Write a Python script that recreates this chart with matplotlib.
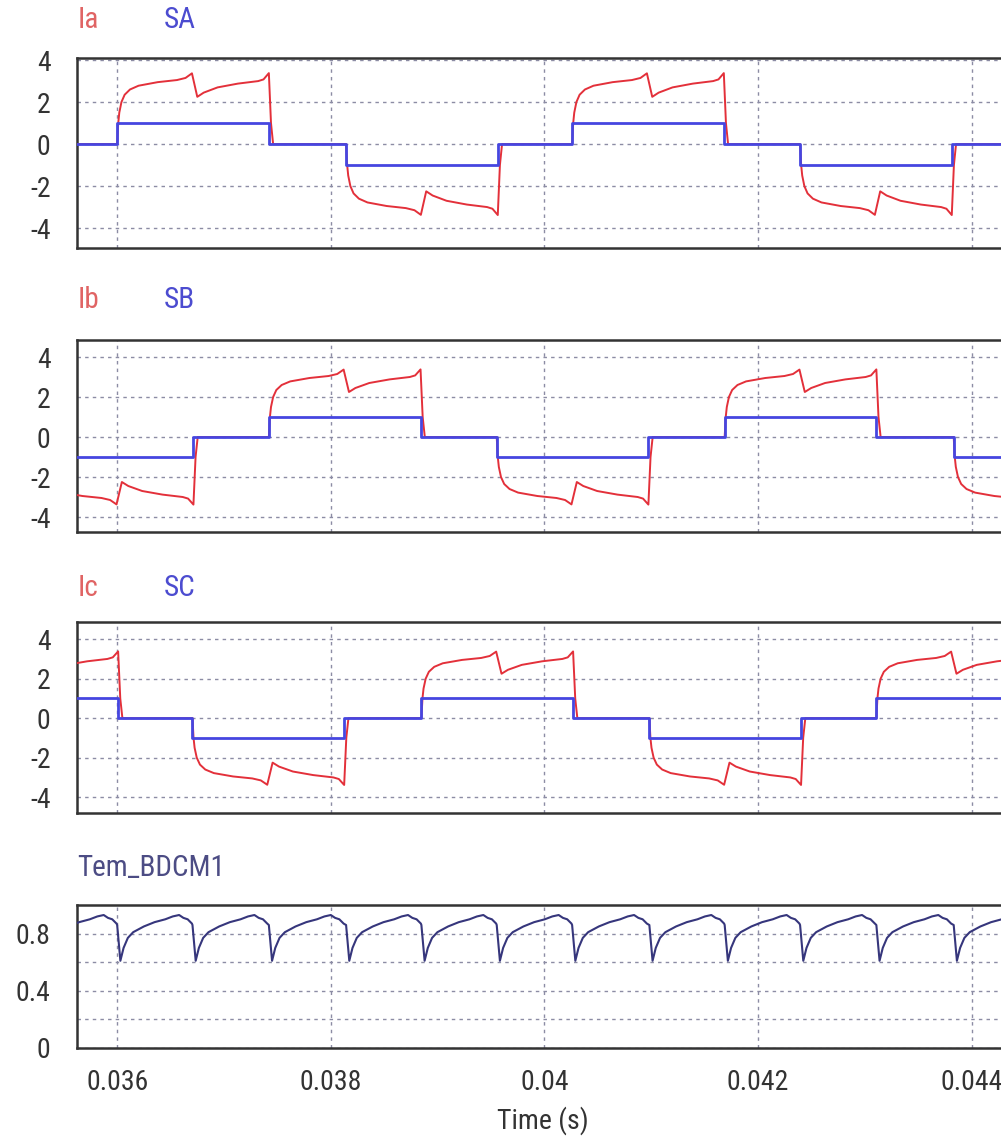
"""Phase currents, switch signals and torque of a BLDC motor (PSIM style)."""

import numpy as np
import matplotlib
matplotlib.use("Agg")
import matplotlib.pyplot as plt
from matplotlib import font_manager
from matplotlib.ticker import FixedLocator

_names = {f.name for f in font_manager.fontManager.ttflist}
_narrow = [n for n in ("Liberation Sans Narrow", "Roboto Condensed", "Open Sans Condensed",
                       "Noto Sans Condensed") if n in _names]
NARROW = bool(_narrow)
plt.rcParams["font.family"] = _narrow + ["Liberation Sans", "DejaVu Sans"]
plt.rcParams["axes.unicode_minus"] = False

W, H = 1001, 1139

# ------------------------------------------------------------------
# data
# ------------------------------------------------------------------
# 120 deg conduction pulses: turn-on instants (s)
IA_POS_ON = [0.036000, 0.040259]
IA_NEG_ON = [0.038143, 0.042393]
IB_POS_ON = [0.037420, 0.041687]
IB_NEG_ON = [0.035294, 0.039553, 0.043831]
IC_POS_ON = [0.034589, 0.038848, 0.043107]
IC_NEG_ON = [0.036705, 0.040982]
PULSE_WIDTH_MS = 1.42

# current shape inside one positive pulse (offset in ms, current in A)
PULSE_T_MS = [0.00, 0.01, 0.02, 0.04, 0.07, 0.12, 0.20, 0.38, 0.56, 0.64, 0.70,
              0.75, 0.81, 0.94, 1.13, 1.32, 1.37, 1.42, 1.44, 1.46]
PULSE_I = [0.0, 1.0, 1.5, 2.0, 2.35, 2.6, 2.78, 2.95, 3.05, 3.15, 3.37,
           2.25, 2.45, 2.7, 2.88, 3.0, 3.08, 3.38, 1.0, 0.0]

# torque shape between two commutations (offset in ms, torque)
TEM_T_MS = [0.00, 0.03, 0.06, 0.10, 0.15, 0.25, 0.35, 0.45, 0.52, 0.58,
            0.62, 0.66, 0.70]
TEM_V = [0.86, 0.61, 0.70, 0.77, 0.81, 0.85, 0.88, 0.90, 0.92, 0.93,
         0.91, 0.90, 0.87]

X_TICKS = [0.036, 0.038, 0.040, 0.042, 0.044]
X_TICK_LABELS = ["0.036", "0.038", "0.04", "0.042", "0.044"]
I_TICKS = [-4, -2, 0, 2, 4]
TEM_TICKS = [0, 0.4, 0.8]
TEM_TICK_LABELS = ["0", "0.4", "0.8"]
TEM_MINOR = [0.2, 0.6]

XLIM = (0.035624, 0.044330)

RED = "#e3303a"
BLUE = "#4646e0"
NAVY = "#36367c"
GRID = "#8c8ca4"
FRAME = "#333333"
TXT = "#333333"

FS_TICK = 20 if NARROW else 17
FS_LAB = 21 if NARROW else 18


def current_trace(pos_on, neg_on):
    """Concatenate pulse shapes at the given turn-on instants."""
    shape_t = np.array(PULSE_T_MS) * 1e-3
    shape_i = np.array(PULSE_I)
    pulses = [(t, 1) for t in pos_on] + [(t, -1) for t in neg_on]
    pulses.sort()
    ts = [XLIM[0] - 0.002]
    vs = [0.0]
    for t0, sgn in pulses:
        ts.extend(t0 + shape_t)
        vs.extend(sgn * shape_i)
    ts.append(XLIM[1] + 0.002)
    vs.append(0.0)
    return np.array(ts), np.array(vs)


def switch_trace(pos_on, neg_on):
    """Step signal +1 / -1 / 0 for the gating."""
    w = PULSE_WIDTH_MS * 1e-3
    pulses = sorted([(t, 1) for t in pos_on] + [(t, -1) for t in neg_on])
    ts = [XLIM[0] - 0.002]
    vs = [0.0]
    for t0, sgn in pulses:
        ts += [t0, t0 + w]
        vs += [sgn, 0.0]
    ts.append(XLIM[1] + 0.002)
    vs.append(0.0)
    return np.array(ts), np.array(vs)


def torque_trace():
    comm = sorted(IA_POS_ON + IA_NEG_ON + IB_POS_ON + IB_NEG_ON + IC_POS_ON + IC_NEG_ON)
    shape_t = np.array(TEM_T_MS) * 1e-3
    ts, vs = [], []
    for t0 in comm:
        ts.extend(t0 + shape_t)
        vs.extend(TEM_V)
    return np.array(ts), np.array(vs)


def style_axes(ax, bottom=False):
    ax.set_xlim(*XLIM)
    ax.set_xticks(X_TICKS)
    if bottom:
        ax.set_xticklabels(X_TICK_LABELS)
    else:
        ax.set_xticklabels([])
    ax.tick_params(axis="both", length=0, labelsize=FS_TICK, colors=TXT)
    ax.tick_params(axis="y", pad=19)
    ax.tick_params(axis="x", pad=15)
    ax.grid(True, which="both", color=GRID, linestyle=(0, (2.5, 3)), lw=1.0)
    for sp in ax.spines.values():
        sp.set_color(FRAME)
        sp.set_linewidth(1.8)
    ax.spines["right"].set_visible(False)


def rect(top_px, bottom_px):
    left = 77 / W
    return [left, 1 - bottom_px / H, (W + 6 - 77) / W, (bottom_px - top_px) / H]


fig = plt.figure(figsize=(W / 100, H / 100), dpi=100)

panels = [
    ((58, 248), (-4.95, 4.1), IA_POS_ON, IA_NEG_ON, "Ia", "SA", 20),
    ((340, 532), (-4.75, 4.85), IB_POS_ON, IB_NEG_ON, "Ib", "SB", 300),
    ((622, 813), (-4.8, 4.87), IC_POS_ON, IC_NEG_ON, "Ic", "SC", 588),
]

for (top, bot), ylim, pos_on, neg_on, lab_i, lab_s, lab_y in panels:
    ax = fig.add_axes(rect(top, bot))
    t_i, v_i = current_trace(pos_on, neg_on)
    t_s, v_s = switch_trace(pos_on, neg_on)
    ax.plot(t_i, v_i, color=RED, lw=1.4, zorder=3)
    ax.step(t_s, v_s, where="post", color=BLUE, lw=2.0, zorder=4)
    ax.set_ylim(*ylim)
    ax.set_yticks(I_TICKS)
    style_axes(ax)
    fig.text(78 / W, 1 - lab_y / H, lab_i, color="#e06464", fontsize=FS_LAB,
             ha="left", va="center")
    fig.text(164 / W, 1 - lab_y / H, lab_s, color="#4c4cd0", fontsize=FS_LAB,
             ha="left", va="center")

ax4 = fig.add_axes(rect(905, 1048))
t_e, v_e = torque_trace()
ax4.plot(t_e, v_e, color=NAVY, lw=1.5, zorder=3)
ax4.set_ylim(0, 1.0)
ax4.yaxis.set_major_locator(FixedLocator(TEM_TICKS))
ax4.set_yticklabels(TEM_TICK_LABELS)
ax4.yaxis.set_minor_locator(FixedLocator(TEM_MINOR))
ax4.tick_params(axis="y", which="minor", length=0)
style_axes(ax4, bottom=True)
fig.text(77 / W, 1 - 868 / H, "Tem_BDCM1", color="#4c4c84", fontsize=FS_LAB,
         ha="left", va="center")
fig.text(543 / W, 1 - 1121 / H, "Time (s)", color=TXT, fontsize=FS_TICK,
         ha="center", va="center")

fig.savefig("out.png", dpi=100, facecolor="white")
